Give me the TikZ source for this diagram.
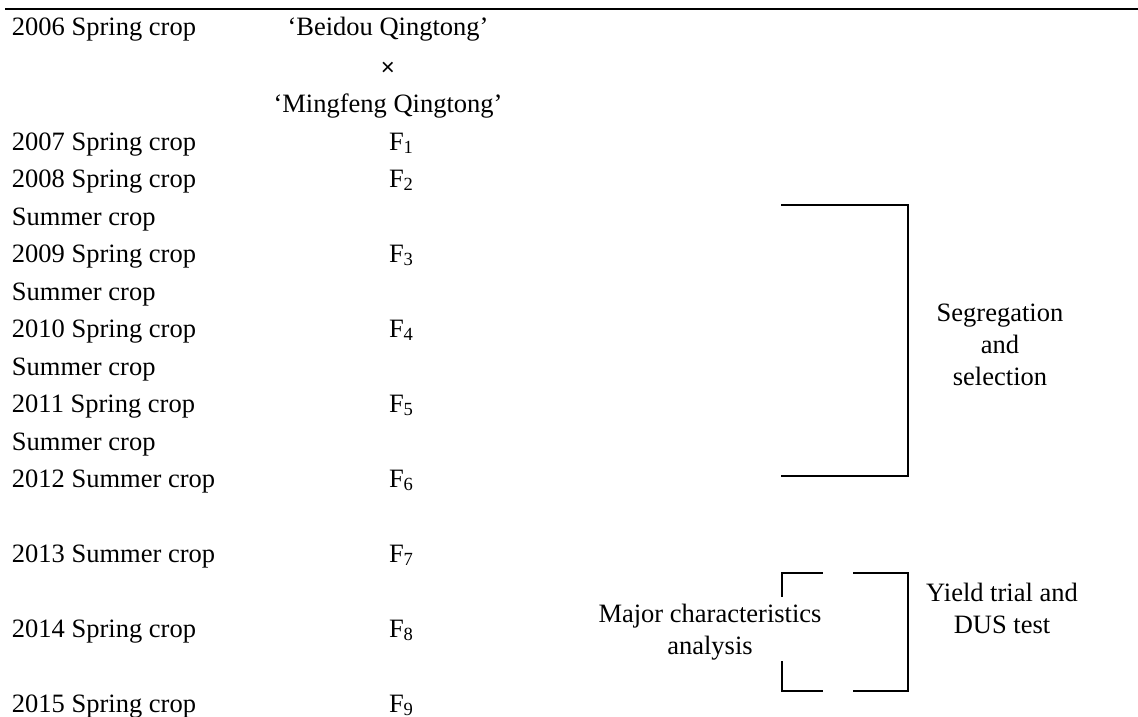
\documentclass[tikz,border=0pt]{standalone}
\usepackage{fontspec}
\setmainfont{Liberation Serif}
\newfontfamily\crossfont{Liberation Sans}
\begin{document}
\begin{tikzpicture}[x=1pt,y=-1pt,
  lbl/.style={inner sep=0pt,outer sep=0pt,font=\fontsize{26.5}{32}\selectfont},
  rowlbl/.style={lbl,anchor=base west},
  gen/.style={lbl,anchor=base west},
  note/.style={lbl,align=center,anchor=center},
  brk/.style={line width=1.5pt,line cap=rect}]
\useasboundingbox (0,0) rectangle (1138,717);
% top rule
\draw[line width=2.4pt] (5,9) -- (1138,9);

% parents of the cross
\node[lbl,anchor=base] (p1) at (388,36) {‘Beidou Qingtong’};
\node[lbl,anchor=center,font=\crossfont\fontsize{24}{28}\selectfont] (cross) at (388,69) {×};
\node[lbl,anchor=base] (p2) at (388,112) {‘Mingfeng Qingtong’};

% season column
\node[rowlbl] (s06) at (12,36) {2006 Spring crop};
\node[rowlbl] (s07) at (12,150) {2007 Spring crop};
\node[rowlbl] (s08) at (12,187) {2008 Spring crop};
\node[rowlbl] (s08b) at (12,225) {Summer crop};
\node[rowlbl] (s09) at (12,262) {2009 Spring crop};
\node[rowlbl] (s09b) at (12,300) {Summer crop};
\node[rowlbl] (s10) at (12,337) {2010 Spring crop};
\node[rowlbl] (s10b) at (12,375) {Summer crop};
\node[rowlbl] (s11) at (12,412) {2011 Spring crop};
\node[rowlbl] (s11b) at (12,450) {Summer crop};
\node[rowlbl] (s12) at (12,487) {2012 Summer crop};
\node[rowlbl] (s13) at (12,562) {2013 Summer crop};
\node[rowlbl] (s14) at (12,637) {2014 Spring crop};
\node[rowlbl] (s15) at (12,712) {2015 Spring crop};

% generations
\node[gen] (f1) at (389,150) {F\textsubscript{1}};
\node[gen] (f2) at (389,187) {F\textsubscript{2}};
\node[gen] (f3) at (389,262) {F\textsubscript{3}};
\node[gen] (f4) at (389,337) {F\textsubscript{4}};
\node[gen] (f5) at (389,412) {F\textsubscript{5}};
\node[gen] (f6) at (389,487) {F\textsubscript{6}};
\node[gen] (f7) at (389,562) {F\textsubscript{7}};
\node[gen] (f8) at (389,637) {F\textsubscript{8}};
\node[gen] (f9) at (389,712) {F\textsubscript{9}};

% segregation and selection
\coordinate (sa) at (782,205);
\coordinate (sb) at (908,205);
\coordinate (sc) at (908,476);
\coordinate (sd) at (782,476);
\draw[brk] (sa) -- (sb) -- (sc) -- (sd);
\node[note] (seg) at (1000,345) {Segregation\\and\\selection};

% characteristics analysis
\coordinate (ma) at (822,573);
\coordinate (mb) at (782,573);
\coordinate (mc) at (782,596);
\coordinate (md) at (782,662);
\coordinate (me) at (782,691);
\coordinate (mf) at (822,691);
\draw[brk] (ma) -- (mb) -- (mc);
\draw[brk] (md) -- (me) -- (mf);
\node[note] (maj) at (710,632) {Major characteristics\\analysis};

% yield trial
\coordinate (ya) at (854,573);
\coordinate (yb) at (908,573);
\coordinate (yc) at (908,691);
\coordinate (yd) at (854,691);
\draw[brk] (ya) -- (yb) -- (yc) -- (yd);
\node[note] (yld) at (1002,608) {Yield trial and\\DUS test};
\end{tikzpicture}
\end{document}
